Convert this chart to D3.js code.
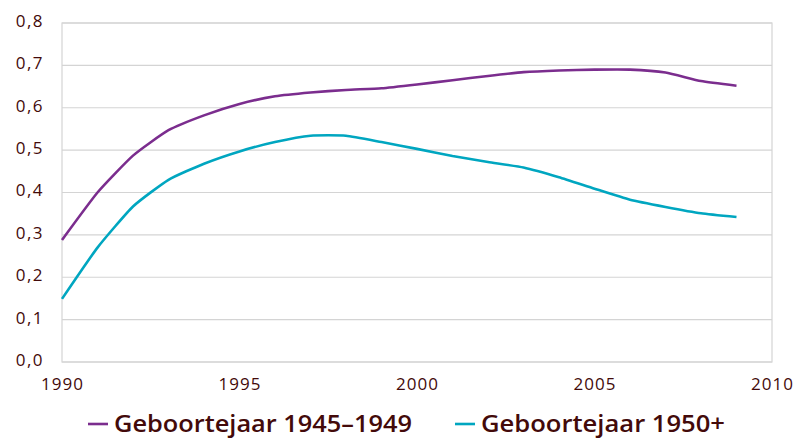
<!DOCTYPE html>
<html><head><meta charset="utf-8">
<script src="https://cdn.jsdelivr.net/npm/d3@7"></script>
<style>body{margin:0;background:#fff}svg{display:block}</style>
</head><body>
<svg id="c" width="794" height="439"></svg>
<script>
const years = d3.range(1990, 2010);
const series1Name = "Geboortejaar 1945–1949";
const series1 = [0.288,0.400,0.487,0.547,0.582,0.609,0.627,0.636,0.642,0.646,0.655,0.665,0.675,0.684,0.688,0.690,0.690,0.683,0.663,0.652];
const series2Name = "Geboortejaar 1950+";
const series2 = [0.149,0.270,0.367,0.430,0.468,0.497,0.519,0.534,0.534,0.519,0.503,0.486,0.472,0.459,0.436,0.409,0.383,0.366,0.351,0.342];
const yTicks = [0,0.1,0.2,0.3,0.4,0.5,0.6,0.7,0.8];
const xTicks = [1990,1995,2000,2005,2010];

const colors = ["#7b2d8e","#00a6c0"];
const textColor = "#430a0a";
const font = "'Open Sans', sans-serif";

const svg = d3.select("#c");
const L=62, R=772, T=23, B=362;
const x = d3.scaleLinear().domain([1990,2010]).range([L,R]);
const y = d3.scaleLinear().domain([0,0.8]).range([B,T]);

svg.append("g").selectAll("line").data(yTicks).join("line")
  .attr("x1",L).attr("x2",R).attr("y1",d=>y(d)).attr("y2",d=>y(d))
  .attr("stroke","#d4d4d4").attr("stroke-width",1.2);
svg.append("rect").attr("x",L).attr("y",T).attr("width",R-L).attr("height",B-T)
  .attr("fill","none").attr("stroke","#d4d4d4").attr("stroke-width",1.2);

const fmt = d => d.toFixed(1).replace(".",",");
const yAxis = d3.axisLeft(y).tickValues(yTicks).tickFormat(fmt).tickSize(0).tickPadding(18);
const ya = svg.append("g").attr("transform",`translate(${L},0)`).call(yAxis);
ya.select(".domain").remove();
ya.selectAll("text").attr("font-family",font).attr("font-size",17).attr("letter-spacing","1.5px").attr("fill",textColor).attr("dy","0.2em");

const xAxis = d3.axisBottom(x).tickValues(xTicks).tickFormat(d3.format("d")).tickSize(0).tickPadding(16);
const xa = svg.append("g").attr("transform",`translate(0,${B})`).call(xAxis);
xa.select(".domain").remove();
xa.selectAll("text").attr("font-family",font).attr("font-size",17).attr("letter-spacing","1px").attr("fill",textColor);

const line = d3.line().x((d,i)=>x(years[i])).y(d=>y(d)).curve(d3.curveCardinal.tension(0.5));
[series1,series2].forEach((s,i)=>{
  svg.append("path").attr("d",line(s)).attr("fill","none")
    .attr("stroke",colors[i]).attr("stroke-width",2.6).attr("stroke-linejoin","round");
});

const legend = [
  {name:series1Name,color:colors[0],sx:88,tx:114,w:298},
  {name:series2Name,color:colors[1],sx:455,tx:481,w:244}
];
legend.forEach(l=>{
  svg.append("line").attr("x1",l.sx).attr("x2",l.sx+20).attr("y1",424).attr("y2",424)
    .attr("stroke",l.color).attr("stroke-width",2.6);
  svg.append("text").attr("x",l.tx).attr("y",432).text(l.name)
    .attr("font-family",font).attr("font-size",24).attr("font-weight",600).attr("fill",textColor)
    .attr("textLength",l.w).attr("lengthAdjust","spacingAndGlyphs");
});
</script>
</body></html>
